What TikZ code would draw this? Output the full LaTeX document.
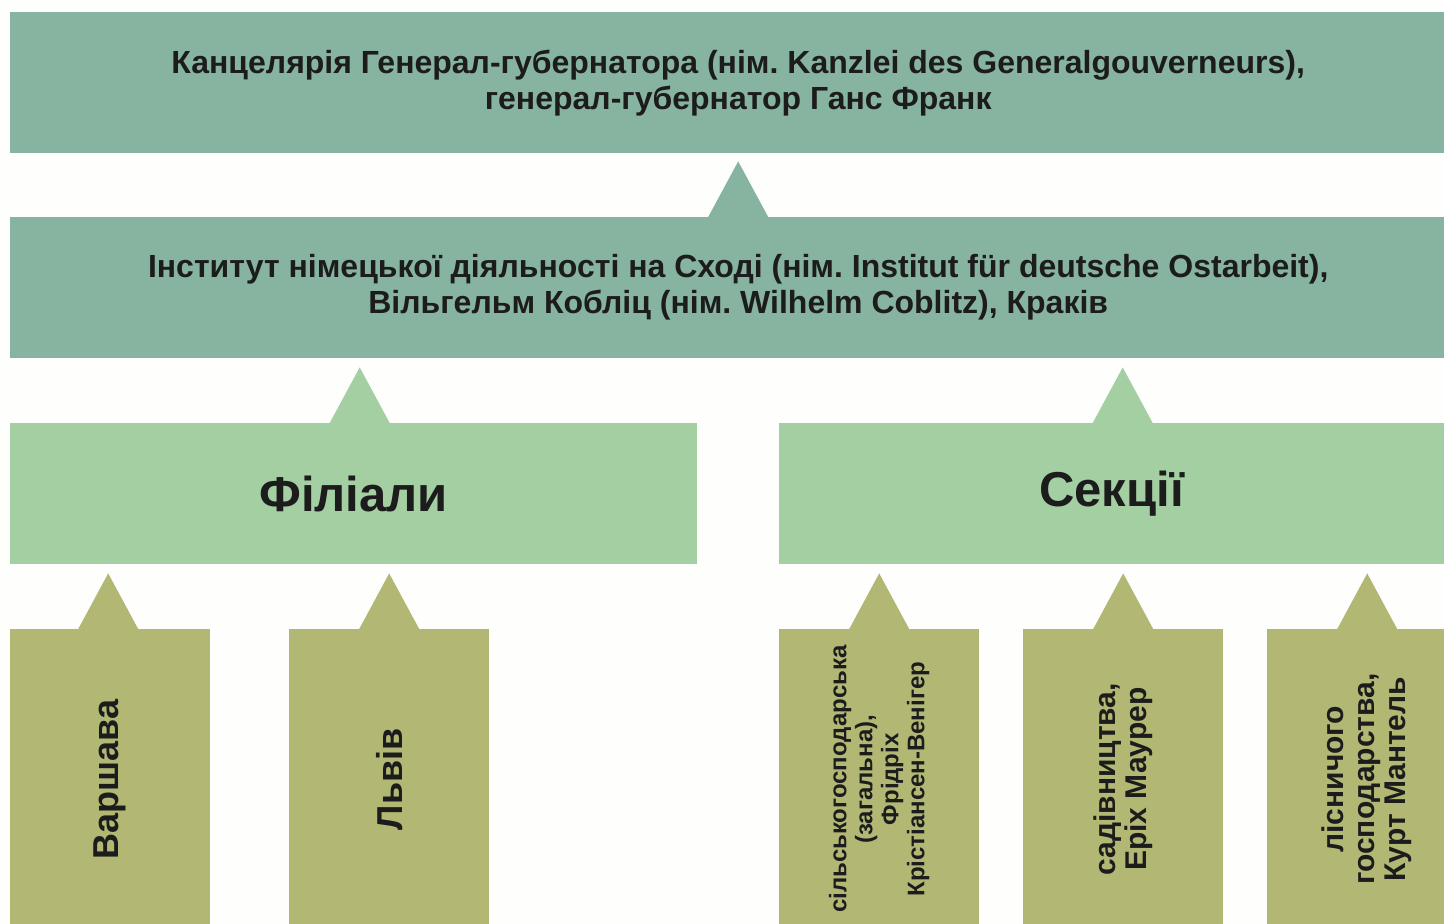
\documentclass[tikz,border=0pt]{standalone}
\usepackage{fontspec}
\setmainfont{Liberation Sans}
\usepackage{tikz}
\usetikzlibrary{positioning, calc}
\usepackage{xcolor}
\definecolor{upgreen}{RGB}{134,180,160}
\definecolor{midgreen}{RGB}{163,207,163}
\definecolor{olive}{RGB}{178,184,116}
\definecolor{paper}{RGB}{254,254,252}
\definecolor{ink}{RGB}{28,28,28}
\frenchspacing

\begin{document}
\begin{tikzpicture}[x=1pt, y=-1pt,
    box/.style={rectangle, anchor=north west, inner sep=0pt, align=center, text=ink, font=\bfseries},
    topbox/.style={box, fill=upgreen, minimum width=1456pt, minimum height=141pt, font=\bfseries\fontsize{32}{36}\selectfont},
    groupbox/.style={box, fill=midgreen, minimum height=141pt, font=\bfseries\fontsize{49}{56}\selectfont},
    leafbox/.style={box, fill=olive, minimum width=200pt, minimum height=300pt},
    vtext/.style={rotate=90, align=center, text=ink}
]
\useasboundingbox (0,0) rectangle (1444,924);
\clip (0,0) rectangle (1444,924);
\fill[paper] (0,0) rectangle (1444,924);

% Chancellery and institute
\node[topbox] (kanz) at (10,12) {Канцелярія Генерал-губернатора (нім. Kanzlei des Generalgouverneurs),\\генерал-губернатор Ганс Франк};
\node[topbox] (inst) at (10,217) {Інститут німецької діяльності на Сході (нім. Institut für deutsche Ostarbeit),\\Вільгельм Кобліц (нім. Wilhelm Coblitz), Краків};
\fill[upgreen] ([xshift=-30pt]inst.north) -- ($(inst.north |- kanz.south)+(0pt,-8pt)$) -- ([xshift=30pt]inst.north) -- cycle;

% Branches and sections
\node[groupbox, minimum width=687pt] (fil) at (10,423) {Філіали};
\node[groupbox, minimum width=665pt] (sek) at (779,423) {Секції};
\fill[midgreen] ($(fil.north)+(-24pt,0pt)$) -- ($(fil.north |- inst.south)+(6pt,-9pt)$) -- ($(fil.north)+(36pt,0pt)$) -- cycle;
\fill[midgreen] ($(sek.north)+(-19pt,0pt)$) -- ($(sek.north |- inst.south)+(11pt,-9pt)$) -- ($(sek.north)+(41pt,0pt)$) -- cycle;

% Branch cities
\node[leafbox] (warsaw) at (10,629) {};
\node[leafbox] (lviv) at (289,629) {};
\node[vtext, font=\bfseries\fontsize{36}{40}\selectfont] at (warsaw.center) {Варшава};
\node[vtext, font=\bfseries\fontsize{36}{40}\selectfont] at (lviv.center) {Львів};
\fill[olive] ($(warsaw.north)+(-32pt,0pt)$) -- ($(warsaw.north |- fil.south)+(-2pt,-9pt)$) -- ($(warsaw.north)+(28pt,0pt)$) -- cycle;
\fill[olive] ([xshift=-30pt]lviv.north) -- ($(lviv.north |- fil.south)+(0pt,-9pt)$) -- ([xshift=30pt]lviv.north) -- cycle;

% Sections
\node[leafbox] (agri) at (779,629) {};
\node[leafbox] (garden) at (1023,629) {};
\node[leafbox] (forest) at (1267,629) {};
\node[vtext, font=\bfseries\fontsize{24}{26}\selectfont] at (agri.center) {сільськогосподарська\\(загальна),\\Фрідріх\\Крістіансен-Венігер};
\node[vtext, font=\bfseries\fontsize{30}{31}\selectfont] at (garden.center) {садівництва,\\Еріх Маурер};
\node[vtext, font=\bfseries\fontsize{30}{31}\selectfont] at (forest.center) {лісничого\\господарства,\\Курт Мантель};
\fill[olive] ([xshift=-30pt]agri.north) -- ($(agri.north |- sek.south)+(0pt,-9pt)$) -- ([xshift=30pt]agri.north) -- cycle;
\fill[olive] ([xshift=-30pt]garden.north) -- ($(garden.north |- sek.south)+(0pt,-9pt)$) -- ([xshift=30pt]garden.north) -- cycle;
\fill[olive] ([xshift=-30pt]forest.north) -- ($(forest.north |- sek.south)+(0pt,-9pt)$) -- ([xshift=30pt]forest.north) -- cycle;

\end{tikzpicture}
\end{document}
